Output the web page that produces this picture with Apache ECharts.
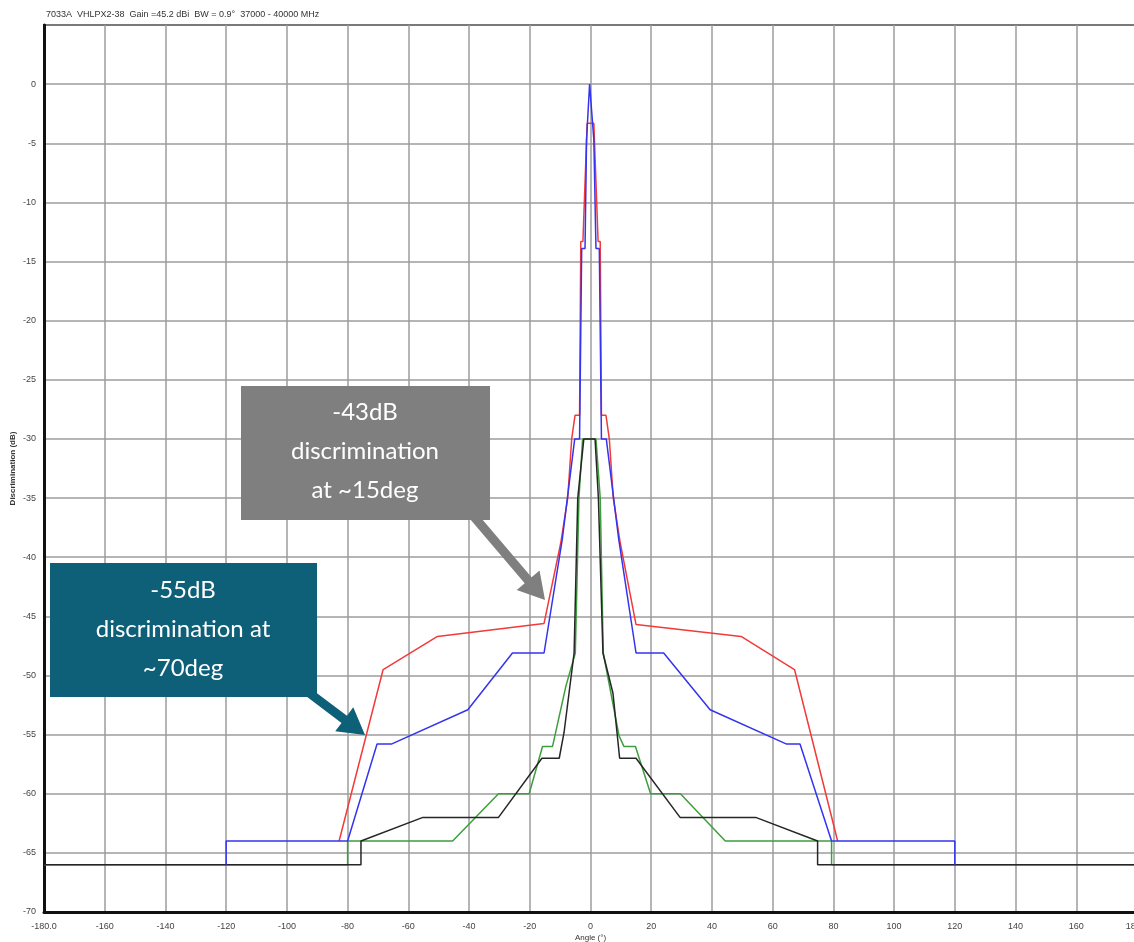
<!DOCTYPE html>
<html>
<head>
<meta charset="utf-8">
<script src="https://cdn.jsdelivr.net/npm/echarts@6/dist/echarts.min.js"></script>
<style>
  html, body { margin: 0; padding: 0; background: #fff; }
  #chart { width: 1134px; height: 942px; }
</style>
</head>
<body>
<div id="chart"></div>
<script>
// antenna pattern envelope, discrimination vs angle

const chartTitle = '7033A  VHLPX2-38  Gain =45.2 dBi  BW = 0.9°  37000 - 40000 MHz'

const redAngles = [-82.8, -68.3, -50.4, -15.3, -9.8, -7.5, -6.2, -5.1, -3.6, -3.2, -2.5, -1.1, 1.1, 2.5, 3.2, 3.6, 5.1, 6.2, 7.5, 9.8, 15.0, 49.6, 67.2, 81.4]
const redLevels = [-64, -49.5, -46.7, -45.6, -38.8, -35, -30, -28, -28, -13.3, -13.3, -3.3, -3.3, -13.3, -13.3, -28, -28, -30, -35, -38.8, -45.7, -46.7, -49.5, -64]

const blueAngles = [-120, -120, -80, -70.3, -65.6, -40.4, -25.7, -15.3, -9.3, -5.2, -3.6, -2.9, -1.8, -1.3, -0.3, 1.1, 1.8, 2.9, 3.6, 5.2, 9.3, 15.0, 24.1, 39.4, 64.6, 69.0, 79.4, 120, 120]
const blueLevels = [-66, -64, -64, -55.8, -55.8, -52.9, -48.1, -48.1, -38.5, -30, -30, -13.9, -13.9, -4.7, 0, -4.7, -13.9, -13.9, -30, -30, -38.5, -48.1, -48.1, -52.9, -55.8, -55.8, -64, -64, -66]

const greenAngles = [-180, -80, -80, -45.4, -30.3, -20.2, -15.8, -12.5, -8.1, -5.0, -3.8, -2.6, 1.8, 3.2, 4.2, 9.4, 11.0, 14.8, 19.8, 29.6, 44.4, 79.4, 79.4, 180]
const greenLevels = [-66, -66, -64, -64, -60, -60, -56, -56, -50.9, -48.1, -35, -30, -30, -35, -48.1, -55.1, -56, -56, -60, -60, -64, -64, -66, -66]

const blackAngles = [-180, -75.6, -75.6, -55.2, -30.3, -16.0, -10.3, -8.7, -5.4, -4.2, -2.2, 1.5, 2.6, 4.1, 7.4, 9.6, 15.0, 29.5, 54.4, 74.8, 74.8, 180]
const blackLevels = [-66, -66, -64, -62, -62, -57, -57, -54.8, -48.1, -35, -30, -30, -35, -48.1, -51.5, -57, -57, -62, -62, -64, -66, -66]

const noteGrey = ['-43dB', 'discrimination', 'at ~15deg']
const noteTeal = ['-55dB', 'discrimination at', '~70deg']

const chart = echarts.init(document.getElementById('chart'))

function pairs (xs, ys) {
  return xs.map((x, i) => [x, ys[i]])
}

// arrow as polygon: from (x1,y1) to tip (x2,y2)
function arrowPoints (x1, y1, x2, y2, shaft, headW, headL) {
  const dx = x2 - x1
  const dy = y2 - y1
  const len = Math.sqrt(dx * dx + dy * dy)
  const ux = dx / len
  const uy = dy / len
  const nx = -uy
  const ny = ux
  const bx = x2 - ux * headL
  const by = y2 - uy * headL
  return [
    [x1 + nx * shaft / 2, y1 + ny * shaft / 2],
    [bx + nx * shaft / 2, by + ny * shaft / 2],
    [bx + nx * headW / 2, by + ny * headW / 2],
    [x2, y2],
    [bx - nx * headW / 2, by - ny * headW / 2],
    [bx - nx * shaft / 2, by - ny * shaft / 2],
    [x1 - nx * shaft / 2, y1 - ny * shaft / 2]
  ]
}

function lineSeries (name, xs, ys, color) {
  return {
    name: name,
    type: 'line',
    data: pairs(xs, ys),
    showSymbol: false,
    symbol: 'none',
    lineStyle: { color: color, width: 1.5 },
    silent: true
  }
}

const noteFont = { fontFamily: 'Lato, "Open Sans", sans-serif', fontSize: 24, fill: '#fff' }

const option = {
  animation: false,
  backgroundColor: '#fff',
  title: {
    text: chartTitle,
    left: 41,
    top: 5,
    textStyle: { fontSize: 9, fontWeight: 'normal', color: '#333', fontFamily: 'Arial, "Liberation Sans", sans-serif' }
  },
  grid: {
    show: true,
    left: 44,
    top: 25,
    width: 1093,
    height: 887,
    borderColor: '#111',
    borderWidth: 2,
    containLabel: false,
    outerBoundsMode: 'none'
  },
  xAxis: {
    type: 'value',
    min: -180,
    max: 180,
    interval: 20,
    name: 'Angle (°)',
    nameLocation: 'middle',
    nameGap: 22,
    nameMoveOverlap: false,
    nameTextStyle: { fontSize: 8, color: '#333', fontFamily: 'Arial, "Liberation Sans", sans-serif' },
    axisLine: { show: true, onZero: false, lineStyle: { color: '#111', width: 3 } },
    axisTick: { show: false },
    axisLabel: {
      fontSize: 9,
      color: '#444',
      margin: 10,
      fontFamily: 'Arial, "Liberation Sans", sans-serif',
      formatter: v => (Math.abs(v) === 180 ? v.toFixed(1) : String(v))
    },
    splitLine: { show: true, lineStyle: { color: '#9c9c9c', width: 1.5 } }
  },
  yAxis: {
    type: 'value',
    min: -70,
    max: 5,
    interval: 5,
    name: 'Discrimination (dB)',
    nameLocation: 'middle',
    nameGap: 27,
    nameMoveOverlap: false,
    nameTextStyle: { fontSize: 8, color: '#333', fontWeight: 'bold', fontFamily: 'Arial, "Liberation Sans", sans-serif' },
    axisLine: { show: true, onZero: false, lineStyle: { color: '#111', width: 3 } },
    axisTick: { show: false },
    axisLabel: {
      fontSize: 9,
      color: '#444',
      margin: 8,
      fontFamily: 'Arial, "Liberation Sans", sans-serif',
      formatter: v => (v > 0 ? '' : String(v))
    },
    splitLine: { show: true, lineStyle: { color: '#9c9c9c', width: 1.5 } }
  },
  series: [
    lineSeries('green', greenAngles, greenLevels, '#3d9e3d'),
    lineSeries('black', blackAngles, blackLevels, '#262626'),
    lineSeries('red', redAngles, redLevels, '#f23a3a'),
    lineSeries('blue', blueAngles, blueLevels, '#3434f0')
  ],
  graphic: [
    {
      type: 'rect',
      shape: { x: 241, y: 386, width: 249, height: 134 },
      style: { fill: '#7f7f7f' },
      z: 100
    },
    {
      type: 'text',
      x: 365,
      y: 393,
      style: Object.assign({ text: noteGrey.join('\n'), align: 'center', lineHeight: 39 }, noteFont),
      z: 101
    },
    {
      type: 'polygon',
      shape: { points: arrowPoints(470, 512, 545, 600, 9, 30, 26) },
      style: { fill: '#7f7f7f' },
      z: 100
    },
    {
      type: 'rect',
      shape: { x: 50, y: 563, width: 267, height: 134 },
      style: { fill: '#0e5f78' },
      z: 100
    },
    {
      type: 'text',
      x: 183,
      y: 571,
      style: Object.assign({ text: noteTeal.join('\n'), align: 'center', lineHeight: 39 }, noteFont),
      z: 101
    },
    {
      type: 'polygon',
      shape: { points: arrowPoints(300, 686, 365, 735, 9, 30, 26) },
      style: { fill: '#0e5f78' },
      z: 100
    }
  ]
}

chart.setOption(option)
</script>
</body>
</html>
